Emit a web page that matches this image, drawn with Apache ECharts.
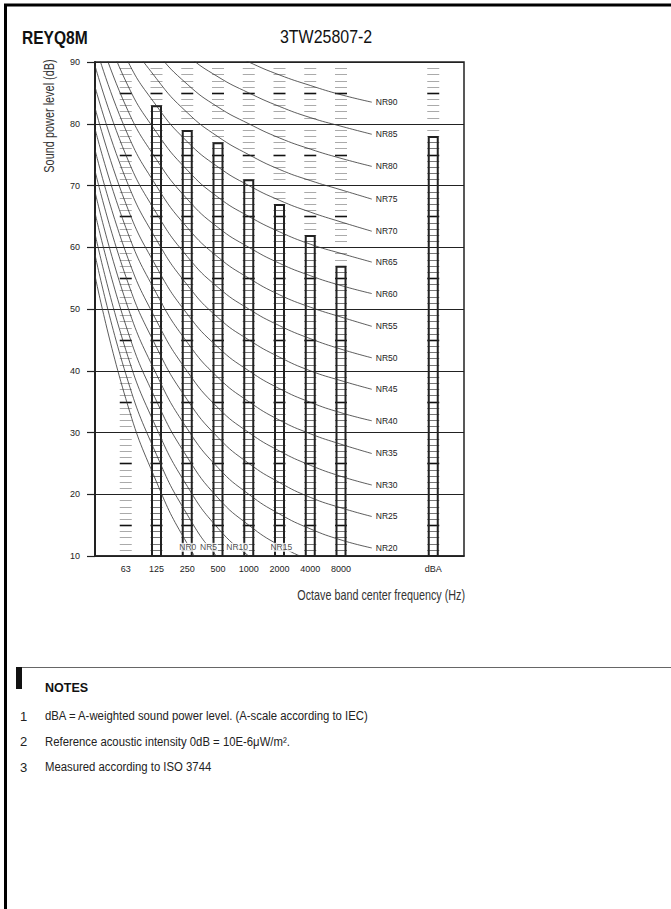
<!DOCTYPE html>
<html><head><meta charset="utf-8">
<script src="https://cdn.jsdelivr.net/npm/echarts@6/dist/echarts.min.js"></script>
<style>html,body{margin:0;padding:0;background:#fff}#c{width:671px;height:909px}</style>
</head><body><div id="c"></div>
<script>
// ---- data ----
const xTickLabels = ['', '63', '125', '250', '500', '1000', '2000', '4000', '8000', '', '', 'dBA', ''];
const barCategories = ['125', '250', '500', '1000', '2000', '4000', '8000', 'dBA'];
const barValues = [83, 79, 77, 71, 67, 62, 57, 78];
const ladderCategories = ['63', '125', '250', '500', '1000', '2000', '4000', '8000', 'dBA'];
// NR curves: values at 31.5, 63, 125, 250, 500, 1k, 2k, 4k, 8k (and curve end)
const NR0  = [55.4, 35.5, 22.0, 12.0, 4.8, 0, -3.5, -6.1, -8.0];
const NR5  = [58.8, 39.5, 26.4, 16.7, 9.7, 5, 1.6, -1.0, -2.9];
const NR10 = [62.2, 43.4, 30.7, 21.3, 14.5, 10, 6.7, 4.2, 2.3];
const NR15 = [65.6, 47.4, 35.1, 26.0, 19.4, 15, 11.7, 9.3, 7.5];
const NR20 = [69.0, 51.3, 39.4, 30.6, 24.3, 20, 16.8, 14.4, 12.6, 11.3];
const NR25 = [72.4, 55.3, 43.8, 35.3, 29.2, 25, 21.9, 19.5, 17.8, 16.4];
const NR30 = [75.8, 59.2, 48.1, 39.9, 34.0, 30, 27.0, 24.7, 22.9, 21.5];
const NR35 = [79.2, 63.2, 52.5, 44.6, 38.9, 35, 32.0, 29.8, 28.1, 26.6];
const NR40 = [82.6, 67.1, 56.8, 49.2, 43.8, 40, 37.1, 34.9, 33.2, 31.9];
const NR45 = [86.0, 71.1, 61.2, 53.9, 48.6, 45, 42.2, 40.0, 38.4, 37.0];
const NR50 = [89.4, 75.0, 65.5, 58.5, 53.5, 50, 47.3, 45.2, 43.5, 42.1];
const NR55 = [92.9, 79.0, 69.9, 63.2, 58.4, 55, 52.3, 50.3, 48.7, 47.2];
const NR60 = [96.3, 82.9, 74.2, 67.8, 63.2, 60, 57.4, 55.4, 53.8, 52.5];
const NR65 = [99.7, 86.9, 78.6, 72.5, 68.1, 65, 62.5, 60.5, 59.0, 57.6];
const NR70 = [103.1, 90.8, 82.9, 77.1, 73.0, 70, 67.6, 65.7, 64.1, 62.6];
const NR75 = [106.5, 94.8, 87.3, 81.8, 77.9, 75, 72.6, 70.8, 69.3, 67.8];
const NR80 = [109.9, 98.7, 91.6, 86.4, 82.7, 80, 77.7, 75.9, 74.4, 73.1];
const NR85 = [113.3, 102.7, 96.0, 91.1, 87.6, 85, 82.8, 81.0, 79.6, 78.3];
const NR90 = [116.7, 106.6, 100.3, 95.7, 92.5, 90, 87.9, 86.2, 84.7, 83.5];
const rightNR = {NR20, NR25, NR30, NR35, NR40, NR45, NR50, NR55, NR60, NR65, NR70, NR75, NR80, NR85, NR90};
const bottomNR = {NR0, NR5, NR10, NR15};
const notes = [
  'dBA = A-weighted sound power level. (A-scale according to IEC)',
  'Reference acoustic intensity 0dB = 10E-6\u03bcW/m\u00b2.',
  'Measured according to ISO 3744'
];

// ---- chart ----
const FONT = '"Liberation Sans", Arial, sans-serif';
const INK = '#222';
const chart = echarts.init(document.getElementById('c'), null, {renderer: 'svg'});

const nrLabelStyle = {fontFamily: FONT, fontSize: 8.5, color: INK, textBorderWidth: 0, textBorderColor: 'transparent', textShadowBlur: 0};
const lineSeries = [];
Object.entries(rightNR).forEach(([name, vals]) => {
  lineSeries.push({
    name, type: 'line', data: vals.map((v, i) => [i, v]), symbol: 'none', color: '#333',
    smooth: 0.5, clip: true, silent: true, z: 4,
    lineStyle: {color: '#333', width: 0.8},
    endLabel: Object.assign({show: true, formatter: name, distance: 4}, nrLabelStyle)
  });
});
const labelLevel = 11.4;
const bottomLabels = [];
Object.entries(bottomNR).forEach(([name, vals]) => {
  lineSeries.push({
    name, type: 'line', data: vals.map((v, i) => [i, v]), symbol: 'none', color: '#333',
    smooth: 0.5, clip: true, silent: true, z: 4,
    lineStyle: {color: '#333', width: 0.8}
  });
  for (let i = 0; i < vals.length - 1; i++) {
    if (vals[i] >= labelLevel && vals[i + 1] < labelLevel) {
      const t = (vals[i] - labelLevel) / (vals[i] - vals[i + 1]);
      bottomLabels.push({value: [i + t, labelLevel], name});
      break;
    }
  }
});

const barByIndex = {};
barCategories.forEach((c, i) => { barByIndex[xTickLabels.indexOf(c)] = barValues[i]; });

const option = {
  animation: false,
  backgroundColor: '#fff',
  grid: {left: 95, top: 62, width: 369, height: 494, show: true, borderColor: INK, borderWidth: 1.5, backgroundColor: 'transparent', outerBoundsMode: 'none'},
  xAxis: {
    type: 'value', min: 0, max: 12, interval: 1,
    axisLine: {show: true, lineStyle: {color: INK, width: 1.5}},
    axisTick: {show: false},
    splitLine: {show: false},
    axisLabel: {formatter: v => xTickLabels[v] || '', fontFamily: FONT, fontSize: 9, color: INK, margin: 8, showMinLabel: true, showMaxLabel: true}
  },
  yAxis: {
    type: 'value', min: 10, max: 90, interval: 10,
    axisLine: {show: true, lineStyle: {color: INK, width: 2}},
    axisTick: {show: true, length: 8, lineStyle: {color: INK, width: 1.2}},
    splitLine: {show: true, lineStyle: {color: INK, width: 1.2}},
    axisLabel: {fontFamily: FONT, fontSize: 9, color: INK, margin: 15}
  },
  series: [
    {
      type: 'custom', silent: true, z: 2, clip: true,
      data: ladderCategories.map(c => [xTickLabels.indexOf(c)]),
      renderItem(params, api) {
        const x = api.value(0);
        const top = barByIndex[x] || 0;
        const children = [];
        for (let lv = 11; lv < 90; lv++) {
          if (lv % 10 === 0) continue;
          const p = api.coord([x, lv]);
          const dark = lv % 5 === 0;
          const inside = lv < top;
          const y = Math.round(p[1]) + 0.5;
          children.push({type: 'line', shape: {x1: p[0] - 6, y1: y, x2: p[0] + 6, y2: y},
            style: {stroke: dark ? '#111' : (inside ? '#777' : '#aaa'), lineWidth: dark ? 1.6 : 1}});
        }
        return {type: 'group', children};
      }
    },
    {
      type: 'bar', barWidth: 11, z: 3, silent: true, clip: true,
      data: barCategories.map((c, i) => [xTickLabels.indexOf(c), barValues[i]]),
      itemStyle: {color: 'rgba(255,255,255,0)', borderColor: INK, borderWidth: 2}
    },
    ...lineSeries,
    {
      type: 'scatter', symbolSize: 0, z: 6, silent: true, data: bottomLabels, color: '#333',
      label: Object.assign({show: true, position: 'inside', formatter: p => p.name,
        backgroundColor: '#fff', padding: [0, 1], offset: [-2, 0]}, nrLabelStyle)
    }
  ],
  graphic: [
    {type: 'line', shape: {x1: 4, y1: 5, x2: 671, y2: 5}, style: {stroke: '#000', lineWidth: 3}},
    {type: 'line', shape: {x1: 5.5, y1: 4, x2: 5.5, y2: 909}, style: {stroke: '#000', lineWidth: 3}},
    {type: 'text', x: 22, y: 37, scaleX: 0.82, style: {text: 'REYQ8M', fontFamily: FONT, fontWeight: 'bold', fontSize: 19, fill: '#111', verticalAlign: 'middle'}},
    {type: 'text', x: 280, y: 37, scaleX: 0.84, style: {text: '3TW25807-2', fontFamily: FONT, fontSize: 19, fill: '#111', verticalAlign: 'middle'}},
    {type: 'text', x: 50, y: 116, rotation: Math.PI / 2, scaleX: 0.78, style: {text: 'Sound power level (dB)', fontFamily: FONT, fontSize: 14, fill: '#333', align: 'center', verticalAlign: 'middle'}},
    {type: 'text', x: 465, y: 596, scaleX: 0.77, style: {text: 'Octave band center frequency (Hz)', fontFamily: FONT, fontSize: 14, fill: '#333', align: 'right', verticalAlign: 'middle'}},
    {type: 'line', shape: {x1: 22, y1: 667.5, x2: 671, y2: 667.5}, style: {stroke: '#666', lineWidth: 1}},
    {type: 'rect', shape: {x: 16, y: 667, width: 6, height: 22}, style: {fill: '#111'}},
    {type: 'text', x: 45, y: 688, style: {text: 'NOTES', fontFamily: FONT, fontWeight: 'bold', fontSize: 12.5, fill: '#111', verticalAlign: 'middle'}},
    ...notes.flatMap((t, i) => [
      {type: 'text', x: 20, y: 716 + i * 25.5, style: {text: String(i + 1), fontFamily: FONT, fontSize: 13, fill: '#222', verticalAlign: 'middle'}},
      {type: 'text', x: 45, y: 716 + i * 25.5, scaleX: 0.84, style: {text: t, fontFamily: FONT, fontSize: 13.5, fill: '#222', verticalAlign: 'middle'}}
    ])
  ]
};
chart.setOption(option);
</script>
</body></html>
